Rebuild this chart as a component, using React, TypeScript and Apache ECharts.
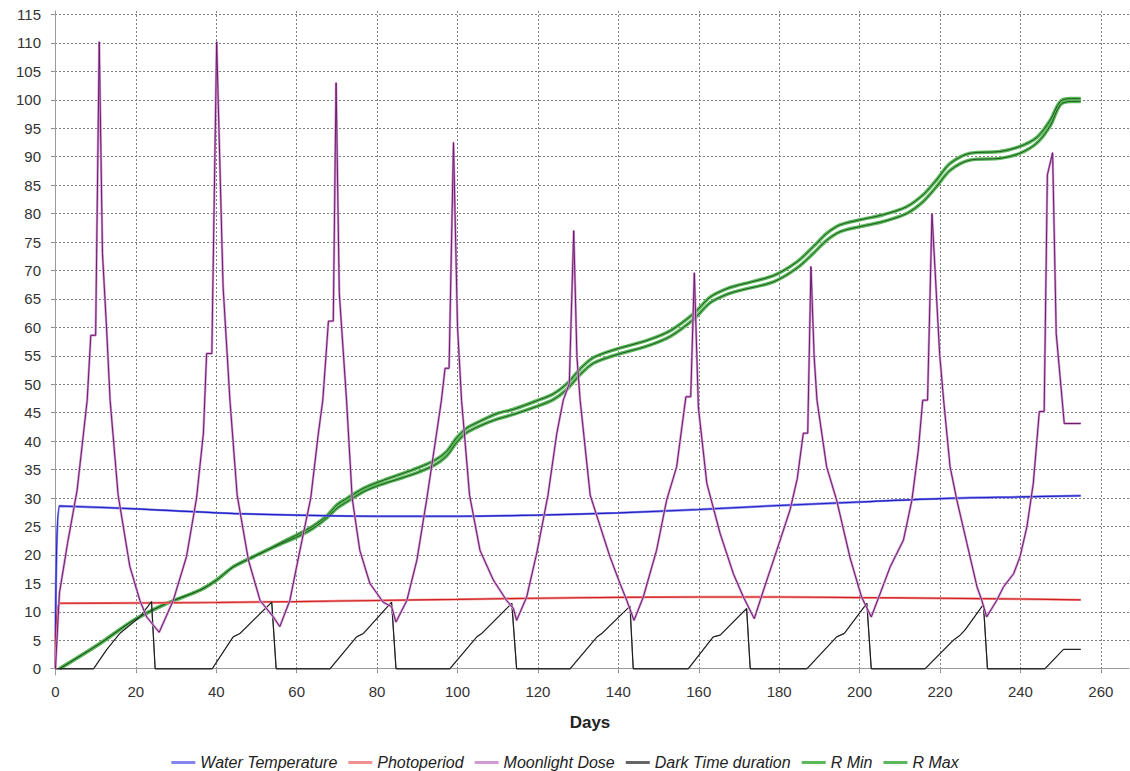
import React, { useEffect, useRef } from 'react';
import * as echarts from 'echarts';

// ---- axis ticks ----
const xTicks = [0, 20, 40, 60, 80, 100, 120, 140, 160, 180, 200, 220, 240, 260];
const yTicks = [0, 5, 10, 15, 20, 25, 30, 35, 40, 45, 50, 55, 60, 65, 70, 75, 80, 85, 90, 95, 100, 105, 110, 115];

// ---- Water Temperature ----
const waterTempDays = [0, 1, 20, 40, 60, 80, 100, 120, 140, 160, 180, 200, 220, 240, 255];
const waterTemp = [0, 28.6, 28.1, 27.4, 27.0, 26.8, 26.8, 27.0, 27.4, 28.0, 28.7, 29.3, 29.9, 30.2, 30.4];

// ---- Photoperiod ----
const photoDays = [0, 1, 20, 40, 60, 80, 100, 120, 140, 160, 180, 200, 220, 240, 255];
const photoperiod = [0, 11.5, 11.55, 11.65, 11.8, 12.0, 12.2, 12.4, 12.55, 12.6, 12.6, 12.5, 12.4, 12.25, 12.1];

// ---- Moonlight Dose ----
const moonDays = [
  0, 1, 3, 5.4, 7.9, 8.8, 10, 10.9, 11.7, 12.7, 13.6, 15.6, 18.5, 21, 22.7, 25.8,
  29.3, 32.6, 35.1, 36.8, 37.6, 38.9, 40.1, 41.7, 43.4, 45.2, 48, 50.9, 54.2, 55.8,
  58.3, 60.8, 63.5, 65.4, 66.5, 67.9, 69.1, 69.8, 70.6, 72.4, 73.8, 75.7, 78.2, 81.5, 83.6, 84.7,
  87.4, 89.9, 92.3, 94.8, 96, 96.9, 97.9, 99, 100, 101, 103, 105.6, 108.9, 112.2, 113.9, 114.7,
  117.2, 119.7, 122.5, 124.7, 126.3, 127.8, 128.9, 129.7, 130.5, 133, 137.9, 140.4, 142.1, 143.9,
  146.2, 149.5, 152, 154.5, 156.8, 158, 158.9, 159.9, 162, 165.3, 168.6, 171.1, 173.8,
  176.1, 179.4, 182.7, 184.5, 186, 187.1, 187.9, 188.7, 189.4, 191.8, 194.3, 197.7, 200.5, 202.9,
  205.1, 207.6, 210.9, 213, 214.6, 215.7, 216.9, 218, 219.9, 220.9, 222.5, 224.2, 226.7, 229.2, 230.4, 231.6,
  234.1, 235.8, 238.3, 239.9, 241.6, 243.2, 244.7, 245.9, 246.7, 248, 248.9, 250.9, 255
];
const moonlight = [
  0, 13.3, 22, 31.4, 47.2, 58.6, 58.6, 110.2, 73, 60.1, 47.2, 30.5, 18, 12, 9.1, 6.4,
  12, 19.7, 30, 41.4, 55.4, 55.4, 110.2, 67.1, 47.2, 30.5, 19.1, 12, 9.1, 7.4,
  12, 20.8, 30, 41.4, 47.2, 61.1, 61.1, 103, 66, 47.2, 30, 20.8, 15, 11.7, 10.9, 8.2,
  12, 19.1, 29.6, 41.4, 47.2, 52.8, 52.8, 92.5, 60.1, 47.2, 30.5, 20.8, 15.6, 12, 10.6, 8.5,
  12.6, 20.3, 30.5, 41.4, 47.2, 50.1, 77, 54.8, 47.2, 30.5, 19.7, 15, 12, 8.5,
  12.6, 20.8, 29.6, 35.5, 47.8, 47.8, 69.6, 46, 32.6, 23.8, 16.7, 12.6, 8.8,
  13.8, 20.8, 27.9, 33.4, 41.4, 41.4, 70.7, 54.8, 47.2, 35.5, 29.6, 19.3, 12.6, 9.1,
  13.2, 17.9, 22.6, 29.6, 38.4, 47.2, 47.2, 80, 55.4, 47.2, 35.5, 29.6, 22, 14.4, 12, 9.1,
  12, 14.4, 16.7, 19.7, 24.9, 32.6, 45.2, 45.2, 86.8, 90.7, 58.9, 43.1, 43.1
];

// ---- Dark Time duration ----
const darkDays = [
  0, 9.5, 12.7, 16, 21, 23.9, 24.8,
  39, 44.2, 45.9, 53.8, 54.9,
  68.3, 74.9, 76.6, 83.6, 84.7,
  98.1, 104.8, 106, 113.5, 114.7,
  128, 134.7, 135.9, 142.9, 143.7,
  157.4, 163.6, 165.3, 171.9, 172.8,
  186.9, 194.3, 196.2, 201.8, 202.9,
  216.3, 223.3, 225, 226.2, 230.8, 231.8,
  246.1, 250.7, 255
];
const darkTime = [
  0, 0, 3.3, 6.2, 9.1, 11.8, 0,
  0, 5.6, 6.2, 11.7, 0,
  0, 5.6, 6.2, 11.7, 0,
  0, 5.6, 6.2, 11.5, 0,
  0, 5.6, 6.2, 11.0, 0,
  0, 5.6, 5.9, 10.6, 0,
  0, 5.6, 6.2, 11.5, 0,
  0, 5.0, 5.9, 6.8, 11.3, 0,
  0, 3.4, 3.4
];

// ---- R Min / R Max ----
const rDays = [
  1, 11, 19.4, 27.7, 35.9, 40.1, 44.2, 48.4, 52.5, 56, 60.8, 64.1, 67.5, 70, 72.4, 76.6, 80.7,
  89, 94, 97.3, 99.8, 102.3, 105.6, 110, 113.9, 119.7, 123.8, 127.2, 130.5, 133.8, 139.6,
  147.1, 152.9, 158.7, 162.8, 167, 170.3, 178.6, 184.4, 188.5, 191.8, 195.1, 200.1, 205.9,
  211.7, 215.8, 219.1, 222.5, 227.5, 234.9, 239.9, 244.1, 247.4, 249.9, 252.4, 255
];
const rMin = [
  0, 4.4, 8.5, 11.5, 13.8, 15.6, 17.9, 19.4, 20.8, 21.9, 23.4, 24.7, 26.5, 28.2, 29.3, 31.1, 32.3,
  34.2, 35.7, 37.4, 39.8, 41.5, 42.7, 43.9, 44.7, 46.1, 47.3, 49.1, 51.7, 53.7, 55.2,
  56.7, 58.4, 61.4, 64.3, 65.8, 66.5, 68.0, 70.4, 73.0, 75.3, 76.8, 77.7, 78.6,
  80.0, 82.1, 84.7, 87.6, 89.4, 89.7, 90.6, 92.4, 95.4, 99.1, 99.7, 99.7
];
const rMax = [
  0, 4.4, 8.5, 11.5, 13.8, 15.6, 17.9, 19.4, 20.8, 22.1, 23.8, 25.1, 26.9, 28.8, 29.9, 31.7, 32.9,
  35.0, 36.5, 38.2, 40.6, 42.3, 43.5, 44.9, 45.6, 47.1, 48.3, 50.1, 52.7, 54.7, 56.2,
  57.7, 59.4, 62.4, 65.3, 66.8, 67.5, 69.1, 71.5, 74.2, 76.5, 78.0, 78.9, 79.8,
  81.2, 83.3, 85.9, 88.8, 90.6, 90.9, 91.8, 93.4, 96.4, 99.7, 100.2, 100.2
];

const legendNames = ['Water Temperature', 'Photoperiod', 'Moonlight Dose', 'Dark Time duration', 'R Min', 'R Max'];

function pts(xs: number[], ys: number[]) {
  return xs.map((x, i) => [x, ys[i]]);
}

function lineSeries(name: string, data: number[][], color: string, width: number, z: number, smooth = 0) {
  return {
    name,
    type: 'line',
    data,
    showSymbol: false,
    symbol: 'none',
    color,
    smooth: smooth || false,
    lineStyle: { color, width },
    z,
    silent: true,
  };
}

export default function App() {
  const ref = useRef<HTMLDivElement>(null);
  useEffect(() => {
    document.body.style.margin = '0';
    const chart = echarts.init(ref.current!, null, { renderer: 'svg' });
    const font = 'Liberation Sans, Arial, sans-serif';
    const rMinPts = pts(rDays, rMin);
    const rMaxPts = pts(rDays, rMax);
    const wt = pts(waterTempDays, waterTemp);
    const ph = pts(photoDays, photoperiod);
    const option = {
      animation: false,
      backgroundColor: '#ffffff',
      grid: { left: 51, right: 1, top: 11, bottom: 96, containLabel: false },
      legend: {
        data: legendNames,
        top: 754,
        left: 'center',
        padding: 0,
        icon: 'rect',
        itemWidth: 24,
        itemHeight: 3,
        itemGap: 11,
        textStyle: { fontFamily: font, fontStyle: 'italic', fontSize: 16, lineHeight: 17, color: '#222' },
      },
      xAxis: {
        type: 'value',
        min: -1.1,
        max: 267,
        offset: 4,
        name: 'Days',
        nameLocation: 'middle',
        nameGap: 35,
        nameTextStyle: { fontFamily: font, fontWeight: 'bold', fontSize: 17, color: '#222' },
        axisLine: { show: true, lineStyle: { color: '#9a9a9a', width: 1 } },
        axisTick: { show: true, customValues: xTicks, length: 3, lineStyle: { color: '#9a9a9a' } },
        axisLabel: { customValues: xTicks, margin: 5, fontFamily: font, fontSize: 15, color: '#333' },
        splitLine: { show: true, lineStyle: { color: '#7f7f7f', width: 1, type: [2, 2] } },
      },
      yAxis: {
        type: 'value',
        min: -1.1,
        max: 115.6,
        offset: 4,
        axisLine: { show: true, lineStyle: { color: '#9a9a9a', width: 1 } },
        axisTick: { show: true, customValues: yTicks, length: 3, lineStyle: { color: '#9a9a9a' } },
        axisLabel: { customValues: yTicks, margin: 6, fontFamily: font, fontSize: 15, color: '#333' },
        splitLine: { show: true, lineStyle: { color: '#7f7f7f', width: 1, type: [2, 2] } },
      },
      series: [
        lineSeries('R Min', rMinPts, '#5cb85c', 3.5, 2, 0.3),
        lineSeries('R Max', rMaxPts, '#5cb85c', 3.5, 2, 0.3),
        lineSeries('R Min core', rMinPts, '#1e5a1e', 1, 3, 0.3),
        lineSeries('R Max core', rMaxPts, '#1e5a1e', 1, 3, 0.3),
        lineSeries('Water Temperature', wt, '#8585f0', 2.4, 4, 0.3),
        lineSeries('Water Temperature core', wt, '#2020c0', 1.1, 5, 0.3),
        lineSeries('Photoperiod', ph, '#f09090', 2.4, 4, 0.3),
        lineSeries('Photoperiod core', ph, '#d02020', 1.1, 5, 0.3),
        lineSeries('Dark Time duration', pts(darkDays, darkTime), '#666666', 1.3, 6),
        lineSeries('Dark Time duration core', pts(darkDays, darkTime), '#1a1a1a', 1, 7),
        lineSeries('Moonlight Dose', pts(moonDays, moonlight), '#d49ad4', 2.4, 8),
        lineSeries('Moonlight Dose core', pts(moonDays, moonlight), '#6a1c6a', 1, 9),
      ],
    };
    chart.setOption(option as any);
    return () => chart.dispose();
  }, []);
  return <div ref={ref} style={{ width: 1130, height: 771 }} />;
}
